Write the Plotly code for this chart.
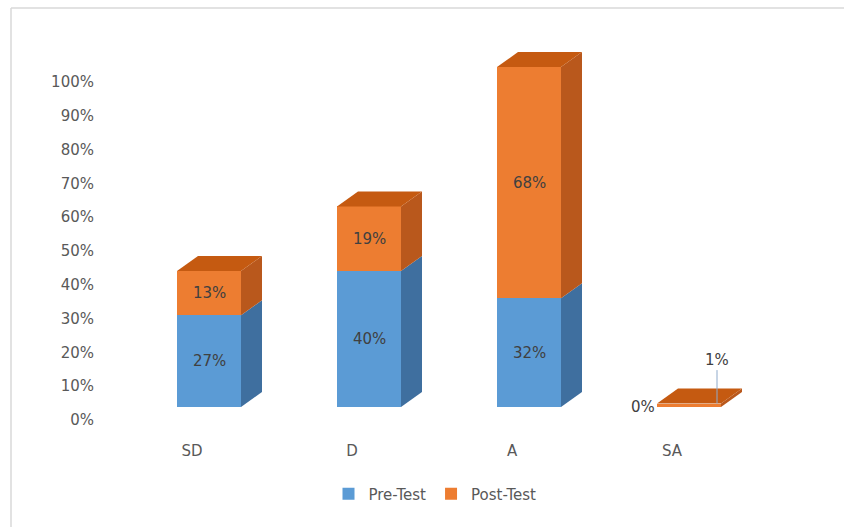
import plotly.graph_objects as go

# ---- data ----
categories = ["SD", "D", "A", "SA"]
pre_test = [27, 40, 32, 0]
post_test = [13, 19, 68, 1]
y_ticks = [0, 10, 20, 30, 40, 50, 60, 70, 80, 90, 100]

# ---- canvas / layout geometry (pixels) ----
W, H = 844, 527
ML, MB = 100, 92                 # left / bottom margins
PW, PH = W - ML, H - MB          # plot area size
CAT_PX0, CAT_STEP = 209, 160     # front-face centre of first column, spacing
BAR_W = 0.4                      # column width in category units
FRONT_ZERO, FRONT_SCALE = 407, 3.4   # front-face baseline px, px per %
WALL_ZERO, WALL_SCALE = 420, 3.38    # value axis baseline px, px per %
DEPTH_X, DEPTH_Y = 21, 15        # 3-D depth offset in px
LABEL_SHIFT = 17                 # category labels sit left of column centre

x_range = [(ML - CAT_PX0) / CAT_STEP, (W - CAT_PX0) / CAT_STEP]
y2_range = [(FRONT_ZERO - PH) / FRONT_SCALE, FRONT_ZERO / FRONT_SCALE]
y_range = [(WALL_ZERO - PH) / WALL_SCALE, WALL_ZERO / WALL_SCALE]

dx = DEPTH_X / CAT_STEP
dy = DEPTH_Y / FRONT_SCALE

BLUE, BLUE_SIDE = "#5B9BD5", "#3F6F9F"
ORANGE, ORANGE_SIDE, ORANGE_TOP = "#ED7D31", "#B9581C", "#C55A11"
FONT = "DejaVu Sans"
FS = 15

fig = go.Figure()

xs = list(range(len(categories)))

# value axis carrier (draws nothing, keeps the percentage axis alive)
fig.add_trace(go.Scatter(x=[0] * len(y_ticks), y=y_ticks, mode="none",
                         xaxis="x", yaxis="y", showlegend=False, hoverinfo="skip"))


def poly(px, py, color):
    fig.add_trace(go.Scatter(
        x=px + [px[0]], y=py + [py[0]], xaxis="x", yaxis="y2",
        mode="lines", fill="toself", fillcolor=color,
        line=dict(width=0, color=color), showlegend=False, hoverinfo="skip"))


# 3-D side and top faces derived from the stacked values
for i, (p, q) in enumerate(zip(pre_test, post_test)):
    xl, xr = i - BAR_W / 2, i + BAR_W / 2
    segs = [(0, p, BLUE_SIDE), (p, p + q, ORANGE_SIDE)]
    for y0, y1, c in segs:
        if y1 > y0:
            poly([xr, xr + dx, xr + dx, xr], [y0, y0 + dy, y1 + dy, y1], c)
    top = p + q
    top_col = ORANGE_TOP if q > 0 else BLUE_SIDE
    poly([xl, xl + dx, xr + dx, xr], [top, top + dy, top + dy, top], top_col)

# front faces
fig.add_trace(go.Bar(x=xs, y=pre_test, name="Pre-Test", width=BAR_W,
                     marker=dict(color=BLUE, line=dict(width=0)),
                     xaxis="x", yaxis="y2", hoverinfo="skip"))
fig.add_trace(go.Bar(x=xs, y=post_test, name="Post-Test", width=BAR_W,
                     marker=dict(color=ORANGE, line=dict(width=0)),
                     xaxis="x", yaxis="y2", hoverinfo="skip"))

# data labels
annotations = []
lab_font = dict(family=FONT, size=FS, color="#404040")
for i, (p, q) in enumerate(zip(pre_test, post_test)):
    for base, v, kind in [(0, p, "pre"), (p, q, "post")]:
        if v >= 5:
            annotations.append(dict(x=i, y=base + v / 2, xref="x", yref="y2",
                                    text=f"{v}%", showarrow=False, font=lab_font))
        elif kind == "pre":
            annotations.append(dict(x=i - BAR_W / 2, y=base, xref="x", yref="y2",
                                    text=f"{v}%", showarrow=False, font=lab_font,
                                    xanchor="right", yanchor="middle"))
        else:
            annotations.append(dict(x=i + BAR_W / 2 - 0.025, y=base + v, xref="x",
                                    yref="y2", text=f"{v}%", showarrow=True,
                                    arrowhead=0, arrowwidth=1, arrowcolor="#8FAACB",
                                    ax=0, ay=-44, standoff=0, font=lab_font))

# thin outline at top and left of the chart area
top_y = 1 - 8 / PH
left_x = (11 - ML) / PW
shapes = [
    dict(type="line", xref="paper", yref="paper", x0=left_x, x1=(W - ML) / PW,
         y0=top_y, y1=top_y, line=dict(color="#D9D9D9", width=1.5)),
    dict(type="line", xref="paper", yref="paper", x0=left_x, x1=left_x,
         y0=top_y, y1=1 - H / PH, line=dict(color="#D9D9D9", width=1.5)),
]

fig.update_layout(
    width=W, height=H,
    margin=dict(l=ML, r=0, t=0, b=MB, pad=0),
    paper_bgcolor="white", plot_bgcolor="white",
    barmode="stack",
    font=dict(family=FONT, size=FS, color="#595959"),
    xaxis=dict(range=x_range, tickvals=[i - LABEL_SHIFT / CAT_STEP for i in xs],
               ticktext=categories, showgrid=False, zeroline=False, showline=False,
               ticks="outside", ticklen=2, tickcolor="rgba(0,0,0,0)",
               tickfont=dict(family=FONT, size=FS, color="#595959")),
    yaxis=dict(range=y_range, tickvals=y_ticks, ticktext=[f"{t}%" for t in y_ticks],
               showgrid=False, zeroline=False, showline=False, ticks="",
               ticklabelstandoff=5,
               tickfont=dict(family=FONT, size=FS, color="#595959")),
    yaxis2=dict(range=y2_range, overlaying="y", visible=False),
    legend=dict(orientation="h", xref="container", yref="container",
                x=435 / W, y=1 - 494 / H, xanchor="center", yanchor="middle",
                font=dict(family=FONT, size=FS, color="#595959"),
                traceorder="normal", itemwidth=30),
    annotations=annotations,
    shapes=shapes,
    showlegend=True,
)

fig.write_html("out.html")
